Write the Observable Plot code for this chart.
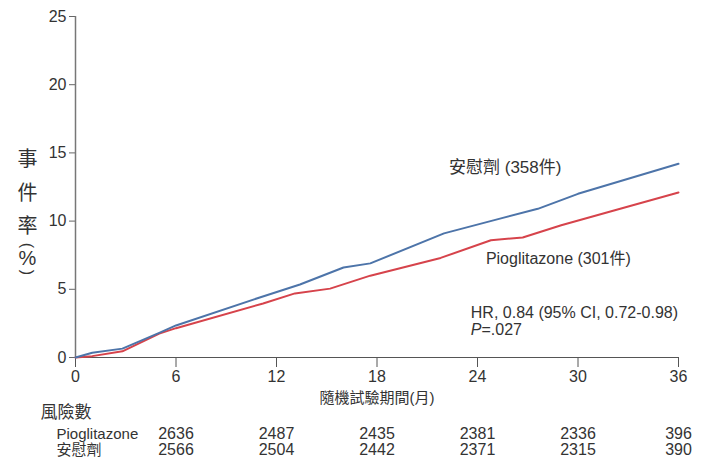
<!DOCTYPE html>
<html>
<head>
<meta charset="utf-8">
<script src="https://cdn.jsdelivr.net/npm/d3@7"></script>
<script src="https://cdn.jsdelivr.net/npm/@observablehq/plot@0.6"></script>
<style>
  body { margin: 0; background: #fff; }
</style>
</head>
<body>
<div id="chart"></div>
<script>
// Cumulative event rate (%) by month since randomization
const placeboMonths = [0, 1, 2.8, 5, 6, 11, 13.4, 16, 17.6, 22, 25.4, 27.6, 30, 36];
const placeboRate   = [0, 0.35, 0.65, 1.8, 2.35, 4.4, 5.35, 6.6, 6.9, 9.1, 10.2, 10.9, 12.0, 14.2];

const pioMonths = [0, 1, 2.8, 5, 6, 11.2, 13.1, 15.2, 17.6, 21.8, 24.8, 26.7, 29, 32.2, 36];
const pioRate   = [0, 0.1, 0.45, 1.75, 2.15, 3.96, 4.7, 5.05, 6.0, 7.3, 8.6, 8.8, 9.7, 10.8, 12.1];

// Axis ticks
const xTicks = [0, 6, 12, 18, 24, 30, 36];
const yTicks = [0, 5, 10, 15, 20, 25];

// Number at risk table
const riskMonths  = [6, 12, 18, 24, 30, 36];
const riskPio     = [2636, 2487, 2435, 2381, 2336, 396];
const riskPlacebo = [2566, 2504, 2442, 2371, 2315, 390];

// Labels
const placeboLabel = "安慰劑 (358件)";
const pioLabel = "Pioglitazone (301件)";
const hrLabel = "HR, 0.84 (95% CI, 0.72-0.98)";
const pLabel = "P=.027";
const xLabel = "隨機試驗期間(月)";
const riskTitle = "風險數";
const pioName = "Pioglitazone";
const placeboName = "安慰劑";
const yTitle = "事\n件\n率";
const yUnit = ["(", "%", ")"];

const toRows = (ms, vs) => ms.map((m, i) => ({month: m, rate: vs[i]}));
const placeboRows = toRows(placeboMonths, placeboRate);
const pioRows = toRows(pioMonths, pioRate);
const riskRows = riskMonths.map((m, i) => ({month: m, pio: riskPio[i], placebo: riskPlacebo[i]}));

const font = "'Liberation Sans', 'Noto Sans CJK TC', sans-serif";
const cjk = "'Noto Sans CJK TC', sans-serif";
const ink = "#333";

// fixed annotation text, placed relative to the frame
const note = (s, o) => Plot.text([s], {text: d => d, fill: ink, lineAnchor: "middle", ...o});

const chart = Plot.plot({
  width: 707,
  height: 458,
  marginTop: 16,
  marginBottom: 101,
  marginLeft: 75,
  marginRight: 29,
  style: {fontFamily: font, fontSize: "15px", color: ink, background: "#fff"},
  x: {domain: [0, 36], label: null},
  y: {domain: [0, 25], label: null},
  marks: [
    Plot.axisY({ticks: yTicks, tickSize: 6, tickPadding: 3, label: null, stroke: "#666", fontSize: 16}),
    Plot.axisX({ticks: xTicks, tickSize: 10, tickPadding: 3, label: null, stroke: "#555", fontSize: 16}),
    Plot.ruleX([0], {stroke: "#777", strokeWidth: 1.5}),
    Plot.ruleY([0], {stroke: "#555", strokeWidth: 1.2}),
    Plot.line(pioRows, {x: "month", y: "rate", stroke: "#d6434b", strokeWidth: 2}),
    Plot.line(placeboRows, {x: "month", y: "rate", stroke: "#4d74a9", strokeWidth: 2}),

    // series labels and hazard ratio note
    Plot.text([placeboLabel], {x: 22.3, y: 13.9, text: d => d, textAnchor: "start", fontSize: 17, fill: ink}),
    Plot.text([pioLabel], {x: 24.5, y: 7.25, text: d => d, textAnchor: "start", fontSize: 16, fill: ink}),
    Plot.text([hrLabel], {x: 23.6, y: 3.3, text: d => d, textAnchor: "start", fontSize: 16, fill: ink}),
    Plot.text([pLabel], {x: 23.6, y: 2.0, text: d => d, textAnchor: "start", fontSize: 16, fill: ink}),

    // vertical y-axis title, with the unit's parentheses turned sideways
    note(yTitle, {frameAnchor: "top-left", textAnchor: "middle", dx: -48, dy: 172.5, lineHeight: 1.68, fontSize: 20, fontFamily: cjk}),
    note(yUnit[0], {frameAnchor: "top-left", textAnchor: "middle", dx: -48, dy: 229, rotate: 90, fontSize: 16}),
    note(yUnit[1], {frameAnchor: "top-left", textAnchor: "middle", dx: -48, dy: 242, fontSize: 20}),
    note(yUnit[2], {frameAnchor: "top-left", textAnchor: "middle", dx: -48, dy: 256, rotate: 90, fontSize: 16}),

    // x-axis title
    note(xLabel, {frameAnchor: "bottom", dy: 41, fontSize: 15}),

    // number at risk
    note(riskTitle, {frameAnchor: "bottom-left", dx: -35, dy: 55, textAnchor: "start", fontSize: 17}),
    note(pioName, {frameAnchor: "bottom-left", dx: -19, dy: 77, textAnchor: "start", fontSize: 15}),
    note(placeboName, {frameAnchor: "bottom-left", dx: -19, dy: 93, textAnchor: "start", fontSize: 15}),
    Plot.text(riskRows, {x: "month", text: d => String(d.pio), frameAnchor: "bottom", lineAnchor: "middle", dy: 76, fontSize: 16, fill: ink}),
    Plot.text(riskRows, {x: "month", text: d => String(d.placebo), frameAnchor: "bottom", lineAnchor: "middle", dy: 92, fontSize: 16, fill: ink})
  ]
});

document.getElementById("chart").append(chart);

// italic P in the p-value note
d3.select(chart).selectAll("text").filter(function() { return this.textContent === pLabel; })
  .each(function() {
    const t = d3.select(this);
    t.text(null);
    t.append("tspan").attr("font-style", "italic").text("P");
    t.append("tspan").text(pLabel.slice(1));
  });
</script>
</body>
</html>
